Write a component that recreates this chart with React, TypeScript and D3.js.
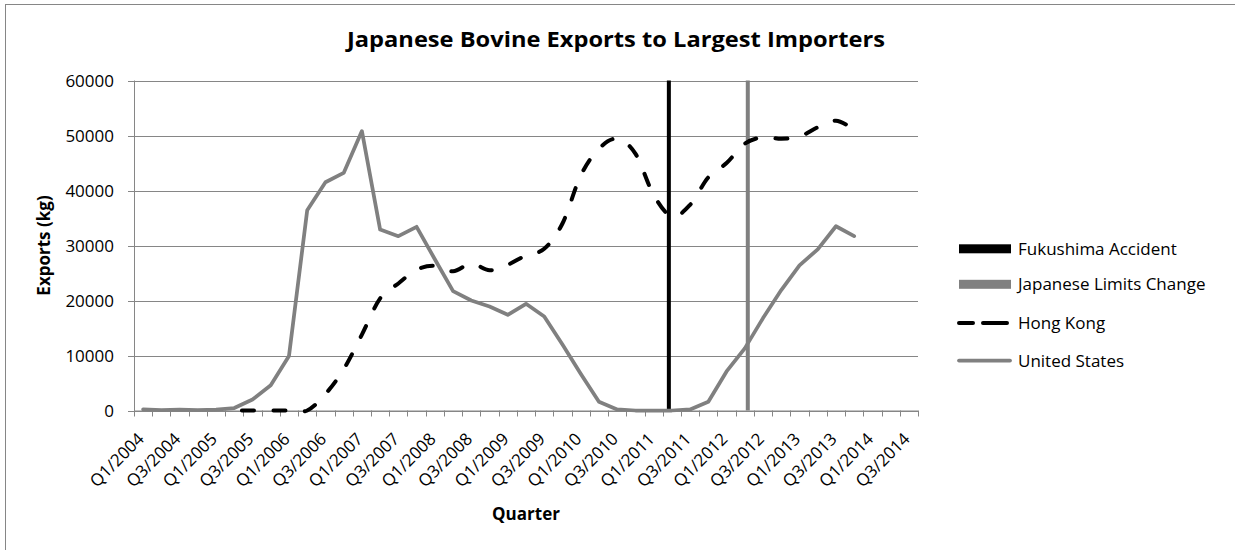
import React from "react";
import * as d3 from "d3";

const quarters = [
  "Q1/2004", "Q2/2004", "Q3/2004", "Q4/2004",
  "Q1/2005", "Q2/2005", "Q3/2005", "Q4/2005",
  "Q1/2006", "Q2/2006", "Q3/2006", "Q4/2006",
  "Q1/2007", "Q2/2007", "Q3/2007", "Q4/2007",
  "Q1/2008", "Q2/2008", "Q3/2008", "Q4/2008",
  "Q1/2009", "Q2/2009", "Q3/2009", "Q4/2009",
  "Q1/2010", "Q2/2010", "Q3/2010", "Q4/2010",
  "Q1/2011", "Q2/2011", "Q3/2011", "Q4/2011",
  "Q1/2012", "Q2/2012", "Q3/2012", "Q4/2012",
  "Q1/2013", "Q2/2013", "Q3/2013", "Q4/2013",
  "Q1/2014", "Q2/2014", "Q3/2014",
];

const yTicks = [0, 10000, 20000, 30000, 40000, 50000, 60000];

const hongKong: (number | null)[] = [
  null, null, null, null, null,
  0, 0, 0, 0, 0,
  3000, 7500, 13800, 20400, 23100, 25600, 26300, 25300, 26700, 25500,
  26500, 28200, 29400, 34000, 42700, 47600, 49400, 46700, 39200, 35300,
  37400, 42400, 45000, 48500, 49700, 49400, 49800, 51500, 52700, 51100,
  null, null, null,
];

const unitedStates: (number | null)[] = [
  200, 50, 150, 50, 150, 450, 2000, 4600, 9900, 36400,
  41500, 43200, 50800, 32900, 31700, 33400, 27500, 21700, 20000, 18900,
  17400, 19400, 17100, 12000, 6700, 1600, 200, 0, 0, 0,
  200, 1600, 7100, 11300, 16800, 21900, 26400, 29300, 33500, 31700,
  null, null, null,
];

const eventSeries = ["Fukushima Accident", "Japanese Limits Change"];
const eventColors = ["#000000", "#808080"];
const eventBars = [
  { series: "Fukushima Accident", quarter: "Q2/2011", value: 60000 },
  { series: "Japanese Limits Change", quarter: "Q2/2012", value: 60000 },
];

const lineSeries = ["Hong Kong", "United States"];

export default function App() {
  const W = 1235;
  const H = 550;
  const left = 134;
  const right = 918;
  const top = 80.5;
  const bottom = 410.5;
  const axisColor = "#868686";
  const font = "'Open Sans', 'Liberation Sans', sans-serif";

  const x = d3.scaleBand<string>().domain(quarters).range([left, right]).padding(0);
  const cx = (q: string) => (x(q) as number) + x.bandwidth() / 2;
  const y = d3.scaleLinear().domain([0, 60000]).range([bottom, top]);
  const xs = d3.scaleBand<string>().domain(eventSeries).range([-5, 5]).paddingInner(1 / 3);

  const hkLine = d3
    .line<number | null>()
    .defined((d) => d != null)
    .x((_d, i) => cx(quarters[i]))
    .y((d) => y(d as number))
    .curve(d3.curveCatmullRom.alpha(0));
  const usLine = d3
    .line<number | null>()
    .defined((d) => d != null)
    .x((_d, i) => cx(quarters[i]))
    .y((d) => y(d as number))
    .curve(d3.curveLinear);

  const tickPositions = quarters.map((q) => x(q) as number).concat([right]);

  const legendX = 959;
  const legendTextX = 1018;
  const legendRows = [248.8, 284.3, 323, 360.5];

  return (
    <svg
      width={W}
      height={H}
      style={{ position: "absolute", left: 0, top: 0, background: "#fff" }}
      fontFamily={font}
    >
      <rect x={0} y={0} width={W} height={H} fill="#fff" />
      <rect x={5.5} y={4.5} width={W + 10} height={H + 10} fill="none" stroke={axisColor} strokeWidth={1} />

      {/* Title */}
      <text
        x={616}
        y={47}
        textAnchor="middle"
        fontSize={21}
        fontWeight="bold"
        fill="#000"
        textLength={538}
        lengthAdjust="spacingAndGlyphs"
      >
        Japanese Bovine Exports to Largest Importers
      </text>

      {/* Gridlines */}
      {yTicks.map((t) => (
        <line
          key={"g" + t}
          x1={left}
          x2={right}
          y1={Math.round(y(t)) + 0.5}
          y2={Math.round(y(t)) + 0.5}
          stroke={axisColor}
          strokeWidth={1}
        />
      ))}

      {/* Y axis */}
      <line x1={left + 0.5} x2={left + 0.5} y1={top} y2={bottom + 0.5} stroke={axisColor} strokeWidth={1} />
      {yTicks.map((t) => (
        <g key={"yt" + t}>
          <line
            x1={left - 6}
            x2={left}
            y1={Math.round(y(t)) + 0.5}
            y2={Math.round(y(t)) + 0.5}
            stroke={axisColor}
            strokeWidth={1}
          />
          <text x={114} y={y(t)} dy="0.36em" textAnchor="end" fontSize={17} fill="#000">
            {t}
          </text>
        </g>
      ))}

      {/* X axis */}
      {tickPositions.map((p, i) => (
        <line
          key={"xt" + i}
          x1={Math.round(p) + 0.5}
          x2={Math.round(p) + 0.5}
          y1={bottom}
          y2={bottom + 6}
          stroke={axisColor}
          strokeWidth={1}
        />
      ))}
      {quarters.map((q, i) =>
        i % 2 === 0 ? (
          <text
            key={"xl" + q}
            transform={`translate(${cx(q) + 2},${440}) rotate(-45)`}
            textAnchor="end"
            fontSize={17}
            fill="#000"
          >
            {q}
          </text>
        ) : null
      )}

      {/* Event bars */}
      {eventBars.map((b) => (
        <rect
          key={b.series}
          x={cx(b.quarter) + (xs(b.series) as number)}
          y={y(b.value)}
          width={xs.bandwidth()}
          height={bottom - y(b.value)}
          fill={eventColors[eventSeries.indexOf(b.series)]}
        />
      ))}

      <line x1={left} x2={right} y1={bottom + 0.5} y2={bottom + 0.5} stroke={axisColor} strokeWidth={1} />

      {/* Lines */}
      <path
        d={hkLine(hongKong) || ""}
        fill="none"
        stroke="#000"
        strokeWidth={4}
        strokeLinecap="round"
        strokeDasharray="12 19.5"
        strokeDashoffset={23.8}
      />
      <path
        d={usLine(unitedStates) || ""}
        fill="none"
        stroke="#808080"
        strokeWidth={3.75}
        strokeLinejoin="round"
        strokeLinecap="round"
      />

      {/* Axis titles */}
      <text
        transform={`translate(50,${(top + bottom) / 2}) rotate(-90)`}
        textAnchor="middle"
        fontSize={17}
        fontWeight="bold"
        fill="#000"
      >
        Exports (kg)
      </text>
      <text x={(left + right) / 2} y={520} textAnchor="middle" fontSize={17} fontWeight="bold" fill="#000">
        Quarter
      </text>

      {/* Legend */}
      {eventSeries.map((s, i) => (
        <g key={"lg" + s}>
          <rect x={legendX} y={legendRows[i] - 4.5} width={52} height={9} fill={eventColors[i]} />
          <text x={legendTextX} y={legendRows[i]} dy="0.36em" fontSize={17} fill="#000">
            {s}
          </text>
        </g>
      ))}
      <line
        x1={legendX}
        x2={1007}
        y1={legendRows[2]}
        y2={legendRows[2]}
        stroke="#000"
        strokeWidth={4}
        strokeLinecap="round"
        strokeDasharray="14 10 40"
      />
      <text x={legendTextX} y={legendRows[2]} dy="0.36em" fontSize={17} fill="#000">
        {lineSeries[0]}
      </text>
      <line
        x1={legendX}
        x2={1010}
        y1={legendRows[3]}
        y2={legendRows[3]}
        stroke="#808080"
        strokeWidth={3.75}
        strokeLinecap="round"
      />
      <text x={legendTextX} y={legendRows[3]} dy="0.36em" fontSize={17} fill="#000">
        {lineSeries[1]}
      </text>
    </svg>
  );
}
